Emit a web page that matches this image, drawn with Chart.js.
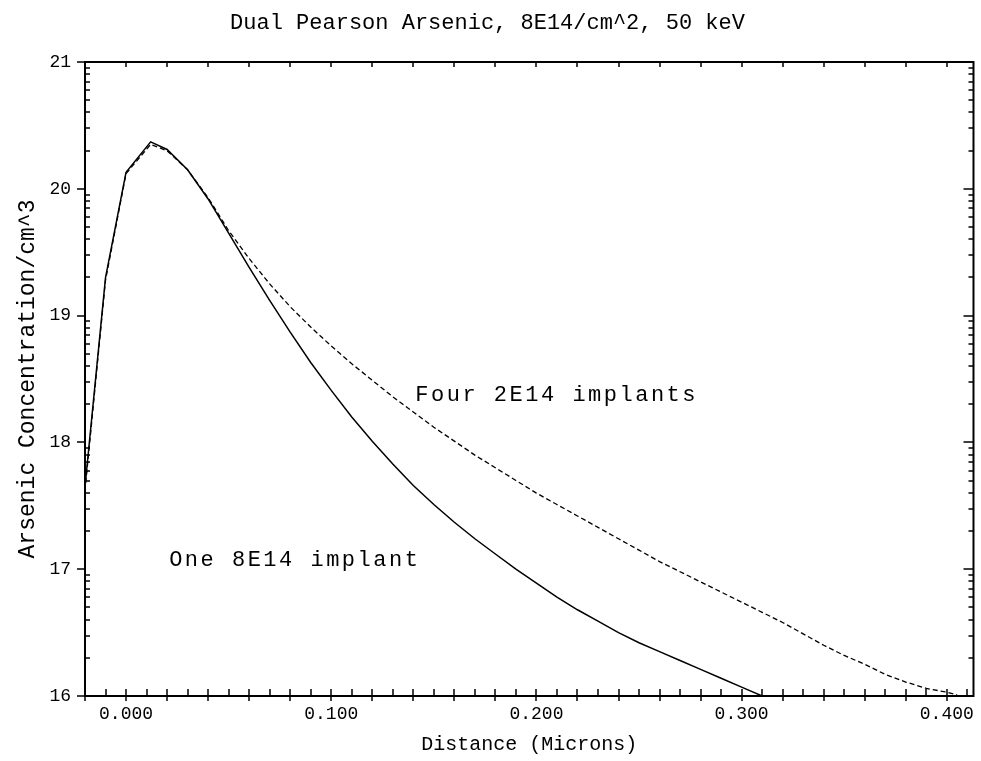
<!DOCTYPE html>
<html>
<head>
<meta charset="utf-8">
<script src="https://cdn.jsdelivr.net/npm/chart.js@4.4.1/dist/chart.umd.min.js"></script>
<style>
  html, body { margin: 0; padding: 0; background: #ffffff; }
  #wrap { width: 981px; height: 761px; }
</style>
</head>
<body>
<div id="wrap"><canvas id="c" width="981" height="761"></canvas></div>
<script>
// ---- data (log10 of arsenic concentration per cm^3 vs distance in microns) ----
const distanceOne = [-0.02, -0.01, 0.00, 0.012, 0.02, 0.03, 0.04, 0.05, 0.06, 0.07, 0.08, 0.09, 0.10, 0.11, 0.12, 0.13, 0.14, 0.15, 0.16, 0.17, 0.18, 0.19, 0.20, 0.21, 0.22, 0.23, 0.24, 0.25, 0.26, 0.27, 0.28, 0.29, 0.30, 0.31];
const concOne = [17.65, 19.30, 20.13, 20.37, 20.31, 20.15, 19.92, 19.65, 19.38, 19.12, 18.87, 18.63, 18.41, 18.20, 18.01, 17.83, 17.66, 17.51, 17.37, 17.24, 17.12, 17.00, 16.89, 16.78, 16.68, 16.59, 16.50, 16.42, 16.35, 16.28, 16.21, 16.14, 16.07, 16.00];

const distanceFour = [-0.02, -0.01, 0.00, 0.012, 0.02, 0.03, 0.04, 0.05, 0.06, 0.07, 0.08, 0.09, 0.10, 0.11, 0.12, 0.13, 0.14, 0.15, 0.16, 0.17, 0.18, 0.19, 0.20, 0.21, 0.22, 0.23, 0.24, 0.25, 0.26, 0.27, 0.28, 0.29, 0.30, 0.31, 0.32, 0.33, 0.34, 0.35, 0.36, 0.37, 0.38, 0.39, 0.40, 0.405];
const concFour = [17.62, 19.28, 20.12, 20.35, 20.30, 20.15, 19.93, 19.67, 19.45, 19.25, 19.07, 18.91, 18.76, 18.62, 18.49, 18.36, 18.24, 18.12, 18.01, 17.90, 17.80, 17.70, 17.60, 17.51, 17.42, 17.33, 17.24, 17.15, 17.06, 16.98, 16.90, 16.82, 16.74, 16.66, 16.58, 16.49, 16.40, 16.32, 16.25, 16.17, 16.11, 16.06, 16.03, 16.01];

const xTickLabels = [0.0, 0.1, 0.2, 0.3, 0.4];
const yTickLabels = [16, 17, 18, 19, 20, 21];

const noteTexts = ['Four 2E14 implants', 'One 8E14 implant'];
const noteX = [0.141, 0.021];
const noteY = [18.37, 17.07];

const titleText = 'Dual Pearson Arsenic, 8E14/cm^2, 50 keV';
const xTitle = 'Distance (Microns)';
const yTitle = 'Arsenic Concentration/cm^3';

// ---- styling ----
const FONT = '"Liberation Mono", "DejaVu Sans Mono", monospace';

const toPoints = (xs, ys) => xs.map((x, i) => ({ x: x, y: ys[i] }));

const frameTicks = {
  id: 'frameTicks',
  afterDatasetsDraw(chart) {
    const { ctx, chartArea: a, scales: { x, y } } = chart;
    ctx.save();
    ctx.strokeStyle = '#000';
    ctx.lineWidth = 2;
    ctx.strokeRect(a.left, a.top, a.right - a.left, a.bottom - a.top);
    ctx.lineWidth = 1.5;
    ctx.beginPath();
    for (let i = -2; i <= 42; i++) {
      const v = i * 0.01;
      if (v < x.min - 1e-9 || v > x.max + 1e-9) continue;
      const px = Math.round(x.getPixelForValue(v));
      const major = (i % 2 === 0);
      ctx.moveTo(px, a.bottom + (major ? 5 : 0));
      ctx.lineTo(px, a.bottom - 7);
      if (major) {
        ctx.moveTo(px, a.top);
        ctx.lineTo(px, a.top + 5);
      }
    }
    for (let d = 16; d <= 21; d++) {
      for (let k = 1; k <= 9; k++) {
        const v = d + Math.log10(k);
        if (v > 21.0001) continue;
        const py = Math.round(y.getPixelForValue(v));
        if (k === 1) {
          ctx.moveTo(a.left - 8, py); ctx.lineTo(a.left, py);
          ctx.moveTo(a.right - 10, py); ctx.lineTo(a.right, py);
        } else {
          ctx.moveTo(a.left, py); ctx.lineTo(a.left + 5, py);
          ctx.moveTo(a.right - 5, py); ctx.lineTo(a.right, py);
        }
      }
    }
    ctx.stroke();
    ctx.fillStyle = '#000';
    ctx.font = '22px ' + FONT;
    if ('letterSpacing' in ctx) ctx.letterSpacing = '2.5px';
    ctx.textAlign = 'left';
    ctx.textBaseline = 'middle';
    noteTexts.forEach((t, i) => {
      ctx.fillText(t, x.getPixelForValue(noteX[i]), y.getPixelForValue(noteY[i]));
    });
    ctx.restore();
  }
};

new Chart(document.getElementById('c'), {
  type: 'line',
  data: {
    datasets: [
      {
        label: 'One 8E14 implant',
        data: toPoints(distanceOne, concOne),
        borderColor: '#000',
        borderWidth: 1.5,
        pointRadius: 0,
        tension: 0,
        fill: false
      },
      {
        label: 'Four 2E14 implants',
        data: toPoints(distanceFour, concFour),
        borderColor: '#000',
        borderWidth: 1.3,
        borderDash: [5, 3],
        pointRadius: 0,
        tension: 0,
        fill: false
      }
    ]
  },
  options: {
    responsive: false,
    animation: false,
    devicePixelRatio: 1,
    layout: { padding: { top: 0, right: 6, bottom: 0, left: 0 } },
    plugins: {
      legend: { display: false },
      tooltip: { enabled: false },
      title: {
        display: true,
        text: titleText,
        color: '#000',
        font: { family: FONT, size: 22, weight: 'normal', lineHeight: 1.2 },
        padding: { top: 10, bottom: 25.6 }
      }
    },
    scales: {
      x: {
        type: 'linear',
        min: -0.02,
        max: 0.413,
        afterBuildTicks: (s) => { s.ticks = xTickLabels.map(v => ({ value: v })); },
        afterFit: (s) => { s.height = 65; },
        grid: { display: false, drawTicks: false },
        border: { display: false },
        ticks: {
          autoSkip: false,
          maxRotation: 0,
          padding: 7,
          color: '#000',
          font: { family: FONT, size: 18 },
          callback: (v) => Number(v).toFixed(3)
        },
        title: {
          display: true,
          text: xTitle,
          color: '#000',
          font: { family: FONT, size: 20, lineHeight: 1.2 },
          padding: { top: 0, bottom: 4 }
        }
      },
      y: {
        type: 'linear',
        min: 16,
        max: 21,
        afterBuildTicks: (s) => { s.ticks = yTickLabels.map(v => ({ value: v })); },
        afterFit: (s) => { s.width = 85; },
        grid: { display: false, drawTicks: false },
        border: { display: false },
        ticks: {
          autoSkip: false,
          padding: 14,
          color: '#000',
          font: { family: FONT, size: 18 },
          callback: (v) => String(v)
        },
        title: {
          display: true,
          text: yTitle,
          color: '#000',
          font: { family: FONT, size: 23, lineHeight: 1.2 },
          padding: { top: 14, bottom: 0 }
        }
      }
    }
  },
  plugins: [frameTicks]
});
</script>
</body>
</html>
